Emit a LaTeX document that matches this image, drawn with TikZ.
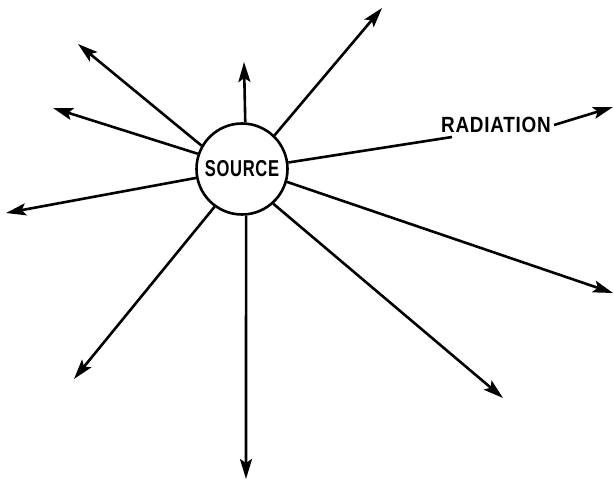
\documentclass[tikz,border=0pt]{standalone}
\usepackage{fontspec}
\setmainfont{Liberation Sans}[LetterSpace=4]
\usetikzlibrary{arrows.meta}

\begin{document}
\begin{tikzpicture}[x=1pt,y=-1pt,>={Stealth[length=20pt,width=12pt,inset=4pt]},
  ray/.style={->,line width=2.6pt},
  srcnode/.style={draw,circle,line width=2.6pt,minimum size=91pt,inner sep=0pt,
    font=\fontsize{23}{23}\selectfont\bfseries},
  lbl/.style={font=\fontsize{22}{22}\selectfont\bfseries,inner sep=3pt}]
\useasboundingbox (0,0) rectangle (614,481);
% the source and the label
\node[srcnode] (S) at (242,169) {\scalebox{0.72}[1]{SOURCE}};
\node[lbl] (rad) at (496,125) {\scalebox{0.86}[1]{RADIATION}};
% arrow tips
\coordinate (up) at (244,62);
\coordinate (ur) at (382,8);
\coordinate (ul) at (78,44);
\coordinate (lu) at (53,108);
\coordinate (lf) at (6,213);
\coordinate (ll) at (74,379);
\coordinate (dn) at (246,479);
\coordinate (lr) at (503,398);
\coordinate (rl) at (613,293);
\coordinate (rt) at (613,107);
\coordinate (radin) at (452,137);
\foreach \a/\t in {86/up,46/ur,150/ul,161/lu,191/lf,234/ll,275/dn,312/lr,344/rl}
  \draw[ray] (S.\a) -- (\t);
\draw[line width=2.6pt] (S.8) -- (radin);
\draw[ray] (rad.east) -- (rt);
\end{tikzpicture}
\end{document}
